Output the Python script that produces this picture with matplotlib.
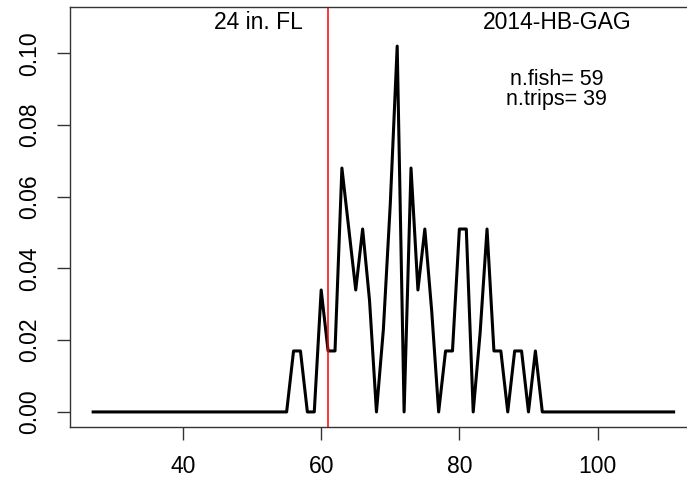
import numpy as np
import matplotlib
matplotlib.use("Agg")
import matplotlib.pyplot as plt

# fork length (cm) and proportion of fish
length_cm = np.arange(27, 112)
prop = ([0.0] * 29 +                      # 27-55
        [0.017, 0.017, 0.0, 0.0, 0.034,   # 56-60
         0.017, 0.017, 0.068, 0.051, 0.034,   # 61-65
         0.051, 0.031, 0.0, 0.023, 0.058,     # 66-70
         0.102, 0.0, 0.068, 0.034, 0.051,     # 71-75
         0.028, 0.0, 0.017, 0.017, 0.051,     # 76-80
         0.051, 0.0, 0.022, 0.051, 0.017,     # 81-85
         0.017, 0.0, 0.017, 0.017, 0.0,       # 86-90
         0.017] +                             # 91
        [0.0] * 20)                           # 92-111

size_limit = 60.96   # 24 in. FL
title = "2014-HB-GAG"
n_fish = 59
n_trips = 39

plt.rcParams['font.family'] = ['Liberation Sans', 'DejaVu Sans']
fs = 16.5

fig = plt.figure(figsize=(6.87, 4.8), dpi=100)
ax = fig.add_axes([70/687, 53/480, 1 - 70/687, 420/480])

ax.plot(length_cm, prop, color='black', lw=2.2)
ax.axvline(size_limit, color='red', lw=1.1)

ax.set_xlim(23.65, 112.94)
ax.set_ylim(-0.0042, 0.1129)
ax.set_xticks([40, 60, 80, 100])
ax.set_yticks([0.0, 0.02, 0.04, 0.06, 0.08, 0.10])
ax.set_yticklabels(['0.00', '0.02', '0.04', '0.06', '0.08', '0.10'],
                   rotation=90, va='center')
ax.tick_params(length=9.5, width=1, color='#333333', labelsize=fs, pad=11)
ax.tick_params(axis='y', pad=11)

for s in ['left', 'top', 'bottom']:
    ax.spines[s].set_color('#333333')
    ax.spines[s].set_linewidth(1.0)
ax.spines['right'].set_visible(False)

ax.text(57.4, 0.1086, '24 in. FL', ha='right', va='center', fontsize=fs)
ax.text(94.1, 0.1086, title, ha='center', va='center', fontsize=fs)
ax.text(94.1, 0.0926, 'n.fish= %d' % n_fish, ha='center', va='center', fontsize=15.5)
ax.text(94.1, 0.0872, 'n.trips= %d' % n_trips, ha='center', va='center', fontsize=15.5)

fig.savefig('out.png', dpi=100)
